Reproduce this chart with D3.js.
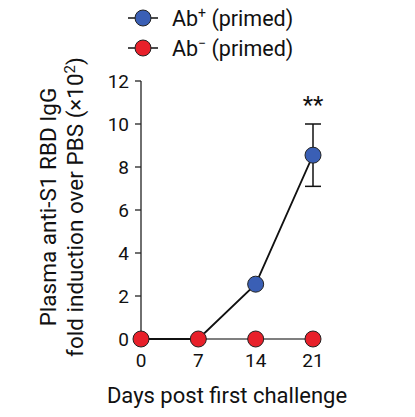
<!DOCTYPE html><html><head><script src="https://cdn.jsdelivr.net/npm/d3@7"></script>
<style>body{margin:0;background:#fff}text{font-family:Roboto,Arial,sans-serif;fill:#111}</style></head><body>
<svg id="c" width="415" height="417"></svg>
<script>
const days=[0,7,14,21];
const abPos=[0,0,2.55,8.55];
const abPosErrLow=[0,0,2.55,7.1];
const abPosErrHigh=[0,0,2.55,10.0];
const abNeg=[0,0,0,0];
const yTicks=[0,2,4,6,8,10,12];
const svg=d3.select("#c");
const x=d3.scaleLinear().domain([0,21]).range([141,313]);
const y=d3.scaleLinear().domain([0,12]).range([339,81]);
const fs=19;
svg.append("line").attr("x1",141).attr("x2",141).attr("y1",y(12)).attr("y2",y(0)).attr("stroke","#222").attr("stroke-width",1.3);
yTicks.forEach(t=>{
 svg.append("line").attr("x1",135).attr("x2",141).attr("y1",y(t)).attr("y2",y(t)).attr("stroke","#222").attr("stroke-width",1.3);
 svg.append("text").attr("x",129).attr("y",y(t)).attr("dy","0.35em").attr("text-anchor","end").attr("font-size",fs).text(t);
});
days.forEach(d=>svg.append("text").attr("x",x(d)).attr("y",367).attr("text-anchor","middle").attr("font-size",fs).text(d));
svg.append("text").attr("x",227).attr("y",403).attr("text-anchor","middle").attr("font-size",22).text("Days post first challenge");
const yl=svg.append("text").attr("transform","translate(56,207) rotate(-90)").attr("text-anchor","middle").attr("font-size",22.5);
yl.append("tspan").attr("x",0).attr("dy",0).text("Plasma anti-S1 RBD IgG");
const t2=yl.append("tspan").attr("x",0).attr("dy",27).text("fold induction over PBS (×10");
t2.append("tspan").attr("dy",-8).attr("font-size",15).text("2");
yl.append("tspan").attr("dy",8).text(")");
const line=d3.line().x((d,i)=>x(days[i])).y(d=>y(d));
svg.append("path").attr("d",line(abNeg)).attr("fill","none").attr("stroke","#555").attr("stroke-width",1.5);
svg.append("path").attr("d",line(abPos)).attr("fill","none").attr("stroke","#111").attr("stroke-width",1.8);
[3].forEach(i=>{
 svg.append("line").attr("x1",x(days[i])).attr("x2",x(days[i])).attr("y1",y(abPosErrLow[i])).attr("y2",y(abPosErrHigh[i])).attr("stroke","#111").attr("stroke-width",1.5);
 [abPosErrLow[i],abPosErrHigh[i]].forEach(v=>svg.append("line").attr("x1",x(days[i])-8).attr("x2",x(days[i])+8).attr("y1",y(v)).attr("y2",y(v)).attr("stroke","#111").attr("stroke-width",1.5));
});
const blue="#3a5fb5", red="#e8202a";
abPos.forEach((v,i)=>{ if(i>=2) svg.append("circle").attr("cx",x(days[i])).attr("cy",y(v)).attr("r",8).attr("fill",blue).attr("stroke","#222").attr("stroke-width",1); });
abNeg.forEach((v,i)=>svg.append("circle").attr("cx",x(days[i])).attr("cy",y(v)).attr("r",8).attr("fill",red).attr("stroke","#222").attr("stroke-width",1));
svg.append("text").attr("x",x(21)).attr("y",113).attr("text-anchor","middle").attr("font-size",24).text("**");
[[blue,"Ab","+",18],[red,"Ab","−",48]].forEach(([c,t,s,yy])=>{
 svg.append("line").attr("x1",128).attr("x2",158).attr("y1",yy).attr("y2",yy).attr("stroke","#111").attr("stroke-width",1.5);
 svg.append("circle").attr("cx",143).attr("cy",yy).attr("r",8).attr("fill",c).attr("stroke","#222");
 const tx=svg.append("text").attr("x",172).attr("y",yy).attr("dy","0.35em").attr("font-size",21.5).text(t);
 tx.append("tspan").attr("dy",-8).attr("font-size",14).text(s);
 tx.append("tspan").attr("dy",8).text(" (primed)");
});
</script></body></html>
